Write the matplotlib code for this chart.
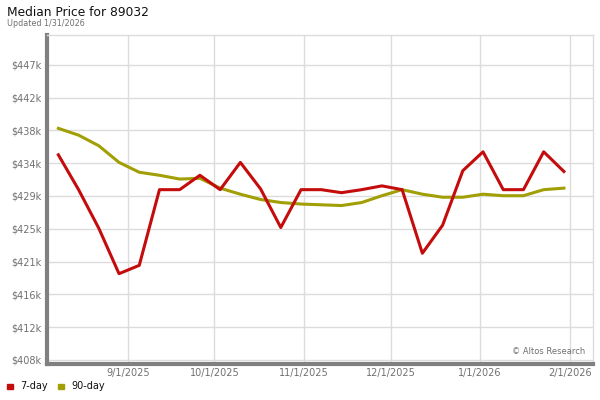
"""Median price chart, 7-day vs 90-day rolling."""

import datetime as dt
import math

import matplotlib

matplotlib.use("Agg")
import matplotlib.dates as mdates
import matplotlib.pyplot as plt
from matplotlib.ticker import FuncFormatter

START = dt.date(2025, 8, 8)
N_WEEKS = 26

price_7day = [
    435.1, 430.5, 425.4, 419.4, 420.5, 430.5, 430.5, 432.4, 430.5, 434.1,
    430.6, 425.5, 430.5, 430.5, 430.1, 430.5, 431.0, 430.5, 422.1, 425.8,
    433.0, 435.5, 430.5, 430.5, 435.5, 432.9,
]
price_90day = [
    438.6, 437.7, 436.3, 434.1, 432.8, 432.4, 431.9, 432.0, 430.7, 429.9,
    429.2, 428.8, 428.6, 428.5, 428.4, 428.8, 429.7, 430.5, 429.9, 429.5,
    429.5, 429.9, 429.7, 429.7, 430.5, 430.7,
]
tick_dates = [dt.date(2025, 9, 1), dt.date(2025, 10, 1), dt.date(2025, 11, 1),
              dt.date(2025, 12, 1), dt.date(2026, 1, 1), dt.date(2026, 2, 1)]
y_ticks = [408000 + i * 13000 / 3 for i in range(10)]

RED = "#c40c0c"
OLIVE = "#a29e05"
GRID = "#dcdcdc"
LABEL = "#707070"

dates = [START + dt.timedelta(weeks=i) for i in range(N_WEEKS)]

fig = plt.figure(figsize=(6, 4), dpi=100)
ax = fig.add_axes((0.078, 0.09, 0.91, 0.8225))

ax.plot(dates, [v * 1000 for v in price_90day], color=OLIVE, lw=2.2,
        solid_joinstyle="round", zorder=3)
ax.plot(dates, [v * 1000 for v in price_7day], color=RED, lw=2.2,
        solid_joinstyle="round", zorder=4)

ax.set_xlim(dt.date(2025, 8, 4) + dt.timedelta(hours=16), dt.date(2026, 2, 9) + dt.timedelta(hours=12))
ax.set_ylim(407470, 450930)
ax.set_xticks(tick_dates)
ax.xaxis.set_major_formatter(
    FuncFormatter(lambda x, _: (lambda d: f"{d.month}/{d.day}/{d.year}")(mdates.num2date(x)))
)
ax.set_yticks(y_ticks)
ax.yaxis.set_major_formatter(FuncFormatter(lambda v, _: f"${math.floor(v / 1000 + 1e-6)}k"))
ax.tick_params(axis="both", length=0, labelsize=7, colors=LABEL, pad=4)
ax.tick_params(axis="x", pad=3)
ax.grid(True, color=GRID, lw=1)
ax.set_axisbelow(True)

for side in ("top", "right"):
    ax.spines[side].set_color(GRID)
    ax.spines[side].set_linewidth(1)
for side in ("left", "bottom"):
    ax.spines[side].set_color("#808080")
    ax.spines[side].set_linewidth(3)

ax.text(0.987, 0.025, "\u00a9 Altos Research", transform=ax.transAxes,
        ha="right", va="bottom", fontsize=6, color=LABEL)

fig.text(0.012, 0.97, "Median Price for 89032", fontsize=8.8, color="#111111",
         ha="left", va="center")
fig.text(0.012, 0.94, "Updated 1/31/2026", fontsize=5.8, color=LABEL,
         ha="left", va="center")

# legend row under the axis
for x0, colour, label in ((0.012, RED, "7-day"), (0.097, OLIVE, "90-day")):
    fig.patches.append(plt.Rectangle((x0, 0.027), 0.0095, 0.014, color=colour,
                                     transform=fig.transFigure, figure=fig))
    fig.text(x0 + 0.022, 0.034, label, fontsize=7, color="#111111",
             ha="left", va="center")

fig.savefig("out.png", dpi=100)
